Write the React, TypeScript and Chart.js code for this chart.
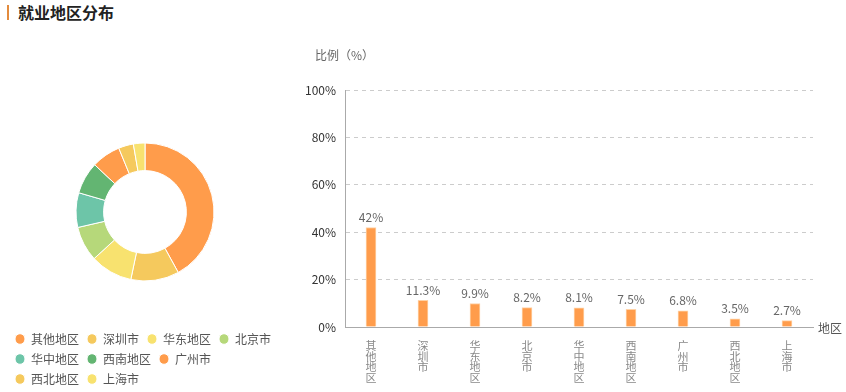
import React, { useEffect, useRef } from "react";
import { Chart, registerables } from "chart.js";

Chart.register(...registerables);

const regions = ["其他地区", "深圳市", "华东地区", "北京市", "华中地区", "西南地区", "广州市", "西北地区", "上海市"];
const shares = [42, 11.3, 9.9, 8.2, 8.1, 7.5, 6.8, 3.5, 2.7];
const sliceColors = ["#FF9C4B", "#F5C95D", "#F8E26F", "#B6D87A", "#6DC5A8", "#63B572", "#FF9C4B", "#F5C95D", "#F8E26F"];
const yTicks = [0, 20, 40, 60, 80, 100];
const yTitle = "比例（%）";
const xTitle = "地区";
const chartTitle = "就业地区分布";

const FONT = "'Noto Sans CJK SC', 'Noto Sans', sans-serif";

export default function App() {
  const pieRef = useRef<HTMLCanvasElement>(null);
  const barRef = useRef<HTMLCanvasElement>(null);

  useEffect(() => {
    document.body.style.margin = "0";
    const pie = new Chart(pieRef.current!, {
      type: "doughnut",
      data: {
        labels: regions,
        datasets: [
          {
            data: shares,
            backgroundColor: sliceColors,
            borderColor: "#ffffff",
            borderWidth: 1,
          },
        ],
      },
      options: {
        animation: false,
        responsive: false,
        radius: 69,
        cutout: "60%",
        layout: { padding: { top: 99, left: 5, right: 29, bottom: 5 } },
        plugins: {
          tooltip: { enabled: false },
          legend: {
            position: "bottom",
            align: "start",
            labels: {
              usePointStyle: true,
              pointStyle: "circle",
              pointStyleWidth: 10,
              boxHeight: 7.5,
              padding: 8,
              color: "#555",
              font: { size: 12, family: FONT },
            },
          },
        },
      } as any,
    });

    const labelPlugin = {
      id: "barLabels",
      afterDatasetsDraw(chart: any) {
        const ctx = chart.ctx;
        const meta = chart.getDatasetMeta(0);
        ctx.save();
        ctx.font = `12px ${FONT}`;
        ctx.fillStyle = "#666";
        ctx.textAlign = "center";
        ctx.textBaseline = "bottom";
        meta.data.forEach((el: any, i: number) => {
          ctx.fillText(String(shares[i]) + "%", el.x, el.y - 4);
        });
        const area = chart.chartArea;
        ctx.fillStyle = "#666";
        ctx.textAlign = "left";
        ctx.textBaseline = "middle";
        ctx.fillText(yTitle, area.left - 30, 55);
        ctx.fillStyle = "#555";
        ctx.fillText(xTitle, area.right + 5, area.bottom + 1);
        ctx.restore();
      },
    };

    const bar = new Chart(barRef.current!, {
      type: "bar",
      data: {
        labels: regions.map((r) => r.split("")),
        datasets: [
          {
            data: shares,
            backgroundColor: "#FF9C4B",
            borderColor: "#FFD2A6",
            borderWidth: 1,
            barThickness: 10,
          },
        ],
      },
      options: {
        animation: false,
        responsive: false,
        layout: { padding: { top: 90, left: 0, right: 33, bottom: 0 } },
        plugins: { legend: { display: false }, tooltip: { enabled: false } },
        scales: {
          x: {
            offset: true,
            grid: { display: false },
            border: { color: "#aaa" },
            ticks: {
              color: "#888",
              maxRotation: 0,
              minRotation: 0,
              autoSkip: false,
              padding: 6,
              font: { size: 11, family: FONT, lineHeight: 0.95 },
            },
            afterFit: (s: any) => {
              s.height = 65;
            },
          },
          y: {
            min: 0,
            max: 100,
            afterBuildTicks: (s: any) => {
              s.ticks = yTicks.map((v) => ({ value: v }));
            },
            grid: { color: "#ccc", drawTicks: false },
            border: { color: "#aaa", dash: [4, 4] },
            ticks: {
              color: "#333",
              padding: 9,
              font: { size: 12, family: FONT },
              callback: (v: any) => v + "%",
            },
            afterFit: (s: any) => {
              s.width = 45;
            },
          },
        },
      } as any,
      plugins: [labelPlugin],
    });

    return () => {
      pie.destroy();
      bar.destroy();
    };
  }, []);

  return (
    <div style={{ position: "relative", width: 846, height: 392, overflow: "hidden", background: "#fff" }}>
      <div style={{ position: "absolute", left: 7, top: 5, width: 2, height: 15, background: "#E38B3D" }} />
      <div
        style={{
          position: "absolute",
          left: 18,
          top: 0,
          height: 25,
          lineHeight: "25px",
          fontSize: 16,
          fontWeight: "bold",
          color: "#222",
          fontFamily: FONT,
        }}
      >
        {chartTitle}
      </div>
      <canvas ref={pieRef} width={310} height={400} style={{ position: "absolute", left: 2, top: 0 }} />
      <canvas ref={barRef} width={546} height={392} style={{ position: "absolute", left: 300, top: 0 }} />
    </div>
  );
}
